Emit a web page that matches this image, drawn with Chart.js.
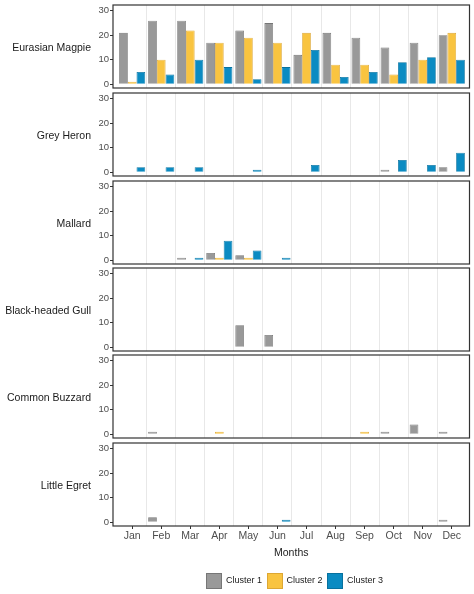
<!DOCTYPE html>
<html>
<head>
<meta charset="utf-8">
<script src="https://cdn.jsdelivr.net/npm/chart.js@4.4.1/dist/chart.umd.min.js"></script>
<style>
  body { margin: 0; background: #fff; font-family: "Liberation Sans", Arial, sans-serif; }
  #wrap { position: relative; width: 474px; height: 594px; overflow: hidden; }
  #wrap canvas { position: absolute; left: 0; }
  .strip { position: absolute; right: 383px; font-size: 10.5px; color: #1a1a1a; white-space: nowrap; transform: translateY(-50%); }
  .key { position: absolute; top: 573px; width: 14px; height: 14px; border: 1px solid; }
  .keytxt { position: absolute; top: 575px; font-size: 9px; color: #1a1a1a; white-space: nowrap; }
</style>
</head>
<body>
<div id="wrap"></div>
<script>
// counts per month, one array per bird and cluster (null = no bar)
var months = ['Jan', 'Feb', 'Mar', 'Apr', 'May', 'Jun', 'Jul', 'Aug', 'Sep', 'Oct', 'Nov', 'Dec'];
var clusters = ['Cluster 1', 'Cluster 2', 'Cluster 3'];
var birds = ['Eurasian Magpie', 'Grey Heron', 'Mallard', 'Black-headed Gull', 'Common Buzzard', 'Little Egret'];
var yTicks = [0, 10, 20, 30];

var magpie1 = [21, 26, 26, 17, 22, 25, 12, 21, 19, 15, 17, 20];
var magpie2 = [1, 10, 22, 17, 19, 17, 21, 8, 8, 4, 10, 21];
var magpie3 = [5, 4, 10, 7, 2, 7, 14, 3, 5, 9, 11, 10];

var heron1 = [null, null, null, null, null, null, null, null, null, 1, null, 2];
var heron2 = [null, null, null, null, null, null, null, null, null, null, null, null];
var heron3 = [2, 2, 2, null, 1, null, 3, null, null, 5, 3, 8];

var mallard1 = [null, null, 1, 3, 2, null, null, null, null, null, null, null];
var mallard2 = [null, null, null, 1, 1, null, null, null, null, null, null, null];
var mallard3 = [null, null, 1, 8, 4, 1, null, null, null, null, null, null];

var gull1 = [null, null, null, null, 9, 5, null, null, null, null, null, null];
var gull2 = [null, null, null, null, null, null, null, null, null, null, null, null];
var gull3 = [null, null, null, null, null, null, null, null, null, null, null, null];

var buzzard1 = [null, 1, null, null, null, null, null, null, null, 1, 4, 1];
var buzzard2 = [null, null, null, 1, null, null, null, null, 1, null, null, null];
var buzzard3 = [null, null, null, null, null, null, null, null, null, null, null, null];

var egret1 = [null, 2, null, null, null, null, null, null, null, null, null, 1];
var egret2 = [null, null, null, null, null, null, null, null, null, null, null, null];
var egret3 = [null, null, null, null, null, 1, null, null, null, null, null, null];

var panelData = [
  [magpie1, magpie2, magpie3],
  [heron1, heron2, heron3],
  [mallard1, mallard2, mallard3],
  [gull1, gull2, gull3],
  [buzzard1, buzzard2, buzzard3],
  [egret1, egret2, egret3]
];

var fills = ['#999999', '#F9C440', '#0B8BC2'];
var edges = ['#767676', '#DDA733', '#08719E'];

var panelTop = [5, 93, 181, 268, 355, 443];
var panelH = 83;
var padTop = 10, padBot = 10, axisH = 37;

// box round each panel
var frame = {
  id: 'frame',
  afterDraw: function (chart) {
    var a = chart.chartArea, ctx = chart.ctx;
    ctx.save();
    ctx.strokeStyle = '#333333';
    ctx.lineWidth = 1.2;
    ctx.strokeRect(a.left, a.top, a.right - a.left, a.bottom - a.top);
    ctx.restore();
  }
};

var wrap = document.getElementById('wrap');

birds.forEach(function (bird, p) {
  var last = p === birds.length - 1;
  var h = padTop + panelH + (last ? axisH : padBot);
  var canvas = document.createElement('canvas');
  canvas.width = 474;
  canvas.height = h;
  canvas.style.width = '474px';
  canvas.style.height = h + 'px';
  canvas.style.top = (panelTop[p] - padTop) + 'px';
  wrap.appendChild(canvas);

  var lab = document.createElement('div');
  lab.className = 'strip';
  lab.style.top = (panelTop[p] + panelH / 2) + 'px';
  lab.textContent = bird;
  wrap.appendChild(lab);

  var datasets = clusters.map(function (c, k) {
    return {
      label: c,
      data: months.map(function (m, i) { return { x: i + 1, y: panelData[p][k][i] }; }),
      backgroundColor: fills[k],
      borderColor: edges[k],
      borderWidth: 0.8,
      categoryPercentage: 0.9,
      barPercentage: 1
    };
  });

  new Chart(canvas, {
    type: 'bar',
    data: { datasets: datasets },
    options: {
      responsive: false,
      animation: false,
      devicePixelRatio: 1,
      layout: { padding: { top: padTop, right: 4.5, bottom: last ? 0 : padBot, left: 0 } },
      plugins: { legend: { display: false }, tooltip: { enabled: false } },
      scales: {
        x: {
          type: 'linear',
          display: last,
          offset: false,
          min: 0.34,
          max: 12.61,
          afterBuildTicks: function (s) { s.ticks = months.map(function (m, i) { return { value: i + 1 }; }); },
          afterFit: function (s) { s.height = last ? axisH : 0; },
          grid: { offset: false, drawOnChartArea: false, drawTicks: true, tickLength: 3, color: '#333333' },
          border: { display: false },
          ticks: {
            padding: 1,
            color: '#4D4D4D',
            font: { family: 'Liberation Sans', size: 10.5 },
            callback: function (v, i) { return months[i]; }
          },
          title: {
            display: true,
            text: 'Months',
            color: '#1a1a1a',
            font: { family: 'Liberation Sans', size: 10.5 },
            padding: { top: 0, bottom: 3.7 }
          }
        },
        x2: {
          type: 'linear',
          position: 'bottom',
          offset: false,
          min: 0.34,
          max: 12.61,
          afterBuildTicks: function (s) { s.ticks = months.slice(1).map(function (m, i) { return { value: i + 1.5 }; }); },
          afterFit: function (s) { s.height = 0; },
          grid: { offset: false, color: '#E8E8E8', lineWidth: 1, drawTicks: false },
          border: { display: false },
          ticks: { display: false }
        },
        y: {
          min: -1.55,
          max: 32.4,
          afterBuildTicks: function (s) { s.ticks = yTicks.map(function (v) { return { value: v }; }); },
          afterFit: function (s) { s.width = 113; },
          grid: { drawOnChartArea: false, drawTicks: true, tickLength: 3, color: '#333333' },
          border: { display: false },
          ticks: { padding: 1, color: '#4D4D4D', font: { family: 'Liberation Sans', size: 9.5 } }
        }
      }
    },
    plugins: [frame]
  });
});

// legend
clusters.forEach(function (c, k) {
  var left = 206 + k * 60.5;
  var sq = document.createElement('div');
  sq.className = 'key';
  sq.style.left = left + 'px';
  sq.style.background = fills[k];
  sq.style.borderColor = edges[k];
  wrap.appendChild(sq);
  var t = document.createElement('div');
  t.className = 'keytxt';
  t.style.left = (left + 20) + 'px';
  t.textContent = c;
  wrap.appendChild(t);
});
</script>
</body>
</html>
